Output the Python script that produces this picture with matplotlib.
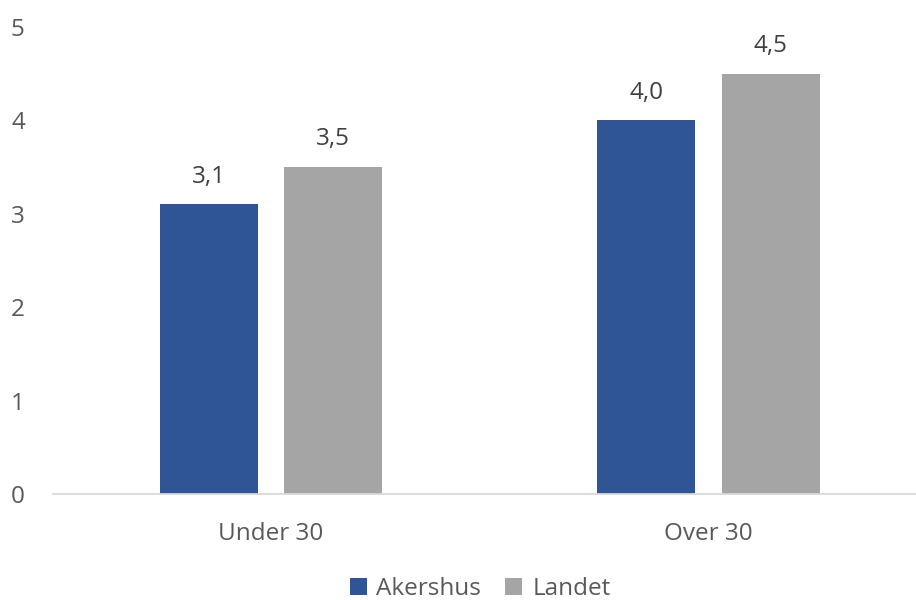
import matplotlib.pyplot as plt
import numpy as np

categories = ['Under 30', 'Over 30']
akershus = [3.1, 4.0]
landet = [3.5, 4.5]
series_names = ['Akershus', 'Landet']
value_labels_a = ['3,1', '4,0']
value_labels_l = ['3,5', '4,5']

blue = '#2F5597'
gray = '#A5A5A5'
text_col = '#595959'

plt.rcParams['font.family'] = ['Open Sans', 'DejaVu Sans']
fs = 17.5

fig = plt.figure(figsize=(9.16, 6), dpi=100)
ax = fig.add_axes([53 / 916, 1 - 494 / 600, 1 - 53 / 916, (494 - 27) / 600])

x = np.arange(len(categories))
w = 0.224
off = 0.1425
b1 = ax.bar(x - off, akershus, w, color=blue, label=series_names[0])
b2 = ax.bar(x + off, landet, w, color=gray, label=series_names[1])

for bars, labs in [(b1, value_labels_a), (b2, value_labels_l)]:
    for rect, lab in zip(bars, labs):
        ax.annotate(lab, (rect.get_x() + rect.get_width() / 2, rect.get_height()),
                    xytext=(0, 20), textcoords='offset points', ha='center', va='center',
                    fontsize=fs, color='#404040')

ax.set_xlim(-0.498, 1.474)
ax.set_ylim(0, 5)
ax.set_yticks([0, 1, 2, 3, 4, 5])
ax.set_xticks(x)
ax.set_xticklabels(categories)
ax.tick_params(axis='both', length=0, labelsize=fs, labelcolor=text_col)
ax.tick_params(axis='x', pad=20)
ax.tick_params(axis='y', pad=0)
for lab in ax.get_yticklabels():
    lab.set_horizontalalignment('left')
    lab.set_x(-42 / 863)

for s in ['top', 'right', 'left']:
    ax.spines[s].set_visible(False)
ax.spines['bottom'].set_color('#D9D9D9')
ax.spines['bottom'].set_linewidth(1.3)

leg = fig.legend(loc='center', bbox_to_anchor=(480 / 916, 1 - 589 / 600), ncol=2,
                 frameon=False, fontsize=fs, handlelength=0.7, handleheight=0.7,
                 handletextpad=0.4, columnspacing=1.0, borderpad=0.2)
for t in leg.get_texts():
    t.set_color(text_col)

fig.savefig('out.png', dpi=100)
